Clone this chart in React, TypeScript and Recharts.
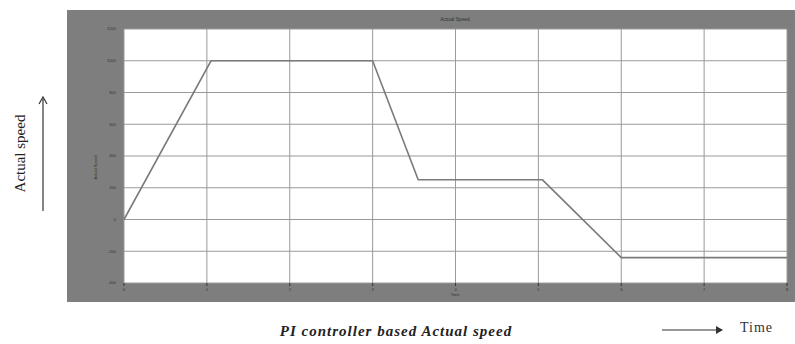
import React from 'react';
import {
  LineChart,
  Line,
  XAxis,
  YAxis,
  CartesianGrid,
} from 'recharts';

const times = [0, 1.05, 3.0, 3.55, 5.05, 6.0, 8.0];
const speeds = [0, 1000, 1000, 250, 250, -240, -240];
const xTicks = [0, 1, 2, 3, 4, 5, 6, 7, 8];
const yTicks = [-400, -200, 0, 200, 400, 600, 800, 1000, 1200];

const data = times.map((t, i) => ({ t, speed: speeds[i] }));

const tinyTick = { fill: '#333', fontSize: 4, fontFamily: 'Liberation Sans' };

export default function App() {
  return (
    <div
      style={{
        position: 'absolute',
        left: 0,
        top: 0,
        width: 795,
        height: 344,
        background: '#fff',
        fontFamily: '"Liberation Serif", serif',
        overflow: 'hidden',
      }}
    >
      {/* scope frame */}
      <div
        style={{
          position: 'absolute',
          left: 67,
          top: 10,
          width: 728,
          height: 292,
          background: '#7e7e7e',
        }}
      />
      <div
        style={{
          position: 'absolute',
          left: 0,
          top: 0,
          width: 795,
          height: 344,
        }}
      >
        <LineChart
          width={795}
          height={344}
          data={data}
          margin={{ top: 29, right: 8, left: 104, bottom: 51 }}
        >
          <CartesianGrid
            stroke="#9a9a9a"
            strokeWidth={1}
            fill="#fff"
            horizontalValues={yTicks}
            verticalValues={xTicks}
          />
          <XAxis
            type="number"
            dataKey="t"
            domain={[0, 8]}
            ticks={xTicks}
            height={10}
            tick={tinyTick}
            tickLine={{ stroke: '#333' }}
            tickSize={3}
            axisLine={false}
            interval={0}
          />
          <YAxis
            type="number"
            domain={[-400, 1200]}
            ticks={yTicks}
            width={20}
            tick={tinyTick}
            tickLine={false}
            axisLine={false}
            interval={0}
          />
          <Line
            type="linear"
            dataKey="speed"
            stroke="#7a7a7a"
            strokeWidth={1.6}
            dot={false}
            isAnimationActive={false}
          />
        </LineChart>
      </div>

      {/* scope title, axis names */}
      <div
        style={{
          position: 'absolute',
          left: 405,
          top: 16,
          width: 100,
          textAlign: 'center',
          fontSize: 5,
          fontFamily: 'Liberation Sans',
          color: '#333',
        }}
      >
        Actual Speed
      </div>
      <div
        style={{
          position: 'absolute',
          left: 435,
          top: 292,
          width: 40,
          textAlign: 'center',
          fontSize: 4,
          fontFamily: 'Liberation Sans',
          color: '#333',
        }}
      >
        Time
      </div>
      <div
        style={{
          position: 'absolute',
          left: 70,
          top: 165,
          width: 50,
          textAlign: 'center',
          fontSize: 4,
          fontFamily: 'Liberation Sans',
          color: '#333',
          transform: 'rotate(-90deg)',
        }}
      >
        Actual Speed
      </div>

      {/* left annotation */}
      <div
        style={{
          position: 'absolute',
          left: -30,
          top: 145,
          width: 100,
          textAlign: 'center',
          fontSize: 15,
          color: '#222',
          transform: 'rotate(-90deg)',
        }}
      >
        Actual speed
      </div>
      <svg
        style={{ position: 'absolute', left: 36, top: 95 }}
        width={14}
        height={120}
      >
        <line x1={7} y1={4} x2={7} y2={116} stroke="#333" strokeWidth={1.2} />
        <path d="M3,9 L7,2 L11,9" fill="none" stroke="#333" strokeWidth={1.2} />
      </svg>

      {/* caption */}
      <div
        style={{
          position: 'absolute',
          left: 196,
          top: 323,
          width: 400,
          textAlign: 'center',
          fontSize: 15,
          letterSpacing: 1,
          fontStyle: 'italic',
          fontWeight: 'bold',
          color: '#222',
        }}
      >
        PI controller based Actual speed
      </div>

      {/* time arrow */}
      <svg
        style={{ position: 'absolute', left: 660, top: 324 }}
        width={70}
        height={12}
      >
        <line x1={2} y1={6} x2={62} y2={6} stroke="#333" strokeWidth={1.2} />
        <path d="M56,2 L63,6 L56,10 Z" fill="#333" />
      </svg>
      <div
        style={{
          position: 'absolute',
          left: 740,
          top: 320,
          fontSize: 14,
          letterSpacing: 1,
          color: '#333',
        }}
      >
        Time
      </div>
    </div>
  );
}
